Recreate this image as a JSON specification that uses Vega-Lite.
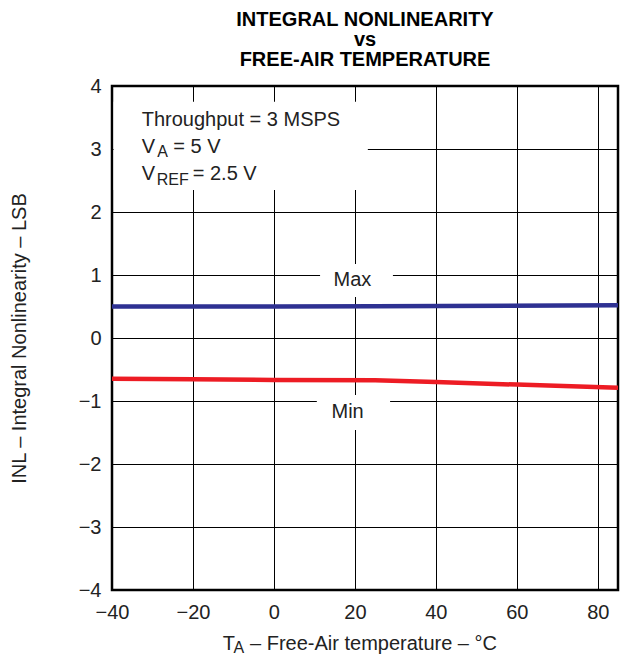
{
  "$schema": "https://vega.github.io/schema/vega-lite/v6.json",
  "autosize": {"type": "none"},
  "padding": {"left": 112, "top": 86, "right": 3, "bottom": 65},
  "width": 506,
  "height": 504,
  "background": "white",
  "title": {
    "text": ["INTEGRAL NONLINEARITY", "vs", "FREE-AIR TEMPERATURE"],
    "font": "Liberation Sans",
    "fontSize": 20,
    "fontWeight": "bold",
    "lineHeight": 20,
    "color": "black",
    "anchor": "middle",
    "frame": "group",
    "offset": 6
  },
  "config": {
    "font": "Liberation Sans",
    "view": {"stroke": "black", "strokeWidth": 2.5},
    "axis": {
      "labelFont": "Liberation Sans",
      "titleFont": "Liberation Sans",
      "labelFontSize": 20,
      "titleFontSize": 20,
      "titleFontWeight": "normal",
      "labelColor": "#222",
      "titleColor": "#222",
      "grid": true,
      "gridColor": "black",
      "gridWidth": 1,
      "gridOpacity": 1,
      "ticks": false,
      "domain": false,
      "labelFlush": false,
      "labelOverlap": false
    }
  },
  "datasets": {
    "series": [
      {"series": "Max", "t": -40, "inl": 0.50},
      {"series": "Max", "t": 0, "inl": 0.50},
      {"series": "Max", "t": 25, "inl": 0.505},
      {"series": "Max", "t": 85, "inl": 0.52},
      {"series": "Min", "t": -40, "inl": -0.645},
      {"series": "Min", "t": -20, "inl": -0.655},
      {"series": "Min", "t": 0, "inl": -0.665},
      {"series": "Min", "t": 25, "inl": -0.672},
      {"series": "Min", "t": 40, "inl": -0.70},
      {"series": "Min", "t": 60, "inl": -0.74},
      {"series": "Min", "t": 85, "inl": -0.79}
    ],
    "boxes": [
      {"x1": -39.6, "x2": 23.2, "y1": 2.35, "y2": 3.75},
      {"x1": 11.4, "x2": 29.4, "y1": 0.65, "y2": 1.175},
      {"x1": 10.6, "x2": 28.7, "y1": -1.46, "y2": -0.905}
    ],
    "notes": [
      {"label": "Throughput = 3 MSPS", "t": -32.66, "v": 3.365},
      {"label": "V", "t": -32.66, "v": 2.932},
      {"label": "= 5 V", "t": -24.86, "v": 2.932},
      {"label": "V", "t": -32.66, "v": 2.508},
      {"label": "= 2.5 V", "t": -20.06, "v": 2.508},
      {"label": "T", "t": -12.65, "v": -4.952},
      {"label": "– Free-Air temperature – °C", "t": -5.91, "v": -4.952}
    ],
    "subs": [
      {"label": "A", "t": -28.81, "v": 2.868},
      {"label": "REF", "t": -28.96, "v": 2.429},
      {"label": "A", "t": -9.99, "v": -4.995}
    ],
    "curveLabels": [
      {"label": "Max", "t": 19.4, "v": 0.83},
      {"label": "Min", "t": 18.2, "v": -1.265}
    ]
  },
  "layer": [
    {
      "data": {"name": "boxes"},
      "mark": {"type": "rect", "fill": "white", "strokeWidth": 0},
      "encoding": {
        "x": {
          "field": "x1", "type": "quantitative",
          "scale": {"domain": [-40, 85], "nice": false, "zero": false},
          "axis": {"values": [-40, -20, 0, 20, 40, 60, 80], "format": "d", "labelPadding": 12, "title": null}
        },
        "x2": {"field": "x2"},
        "y": {
          "field": "y1", "type": "quantitative",
          "scale": {"domain": [-4, 4], "nice": false, "zero": false},
          "axis": {"values": [-4, -3, -2, -1, 0, 1, 2, 3, 4], "format": "d", "labelPadding": 11, "title": "INL – Integral Nonlinearity – LSB", "titlePadding": 49}
        },
        "y2": {"field": "y2"}
      }
    },
    {
      "data": {"name": "series"},
      "mark": {"type": "line", "strokeWidth": 4.5},
      "encoding": {
        "x": {"field": "t", "type": "quantitative"},
        "y": {"field": "inl", "type": "quantitative"},
        "color": {
          "field": "series", "type": "nominal",
          "scale": {"domain": ["Max", "Min"], "range": ["#2e3192", "#ed1c24"]},
          "legend": null
        }
      }
    },
    {
      "data": {"name": "notes"},
      "mark": {"type": "text", "align": "left", "baseline": "alphabetic", "fontSize": 20, "font": "Liberation Sans", "color": "#222"},
      "encoding": {
        "x": {"field": "t", "type": "quantitative"},
        "y": {"field": "v", "type": "quantitative"},
        "text": {"field": "label"}
      }
    },
    {
      "data": {"name": "subs"},
      "mark": {"type": "text", "align": "left", "baseline": "alphabetic", "fontSize": 16, "font": "Liberation Sans", "color": "#222"},
      "encoding": {
        "x": {"field": "t", "type": "quantitative"},
        "y": {"field": "v", "type": "quantitative"},
        "text": {"field": "label"}
      }
    },
    {
      "data": {"name": "curveLabels"},
      "mark": {"type": "text", "align": "center", "baseline": "alphabetic", "fontSize": 20, "font": "Liberation Sans", "color": "#222"},
      "encoding": {
        "x": {"field": "t", "type": "quantitative"},
        "y": {"field": "v", "type": "quantitative"},
        "text": {"field": "label"}
      }
    }
  ]
}
